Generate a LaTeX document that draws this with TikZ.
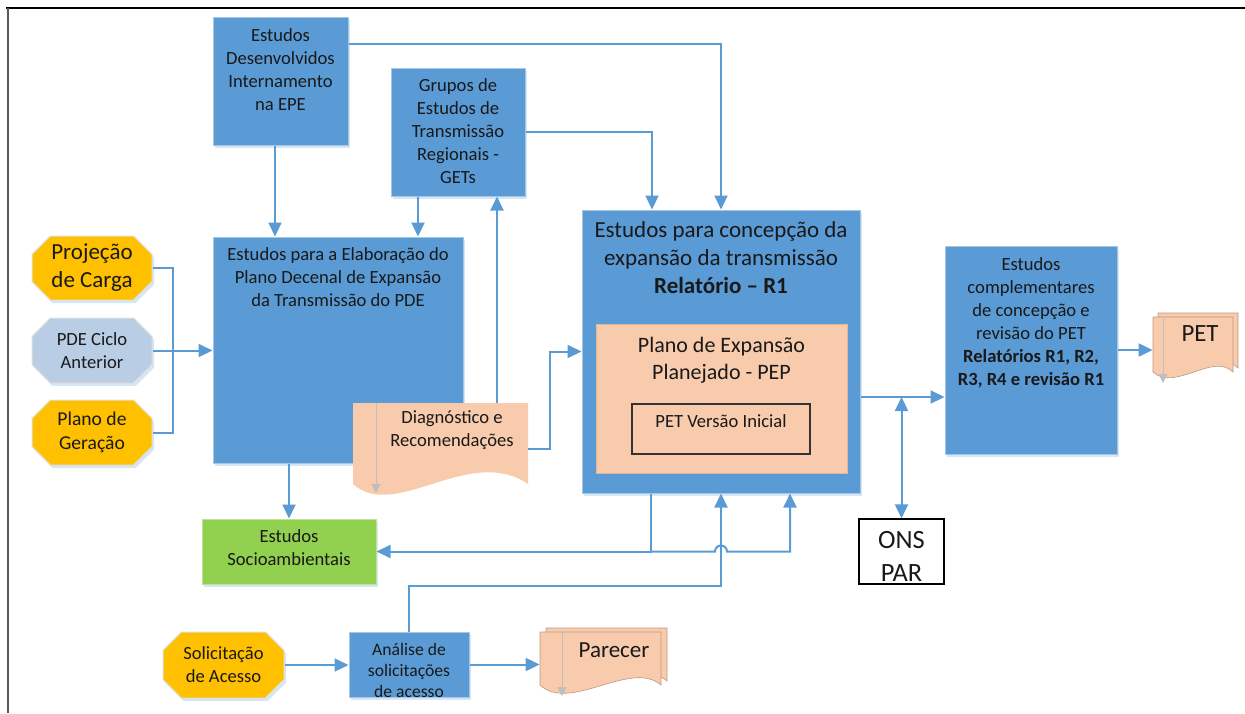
\documentclass[tikz,border=0pt]{standalone}
\usepackage{fontspec}
\setmainfont{Carlito}
\usepackage{xcolor}
\usepackage{tikz}
\usetikzlibrary{positioning,fit,shapes.misc,arrows.meta,shadows}

\definecolor{boxblue}{HTML}{5B9BD5}
\definecolor{lineblue}{HTML}{5B9BD5}
\definecolor{edgeblue}{HTML}{A6C6E6}
\definecolor{orangefill}{HTML}{FFC000}
\definecolor{lightfill}{HTML}{B9CDE5}
\definecolor{peach}{HTML}{F8CBAD}
\definecolor{greenfill}{HTML}{92D050}
\definecolor{docgrey}{HTML}{BFBFBF}
\newcommand{\fsz}[2]{\fontsize{#1}{#2}\selectfont}

\tikzset{
  shade box/.style={drop shadow={shadow xshift=1pt, shadow yshift=-1.5pt, fill=boxblue!25, opacity=1}},
  bluebox/.style={fill=boxblue, draw=edgeblue, line width=0.5pt, inner sep=0pt, shade box},
  peachbox/.style={fill=peach, draw=peach!90!black, line width=0.4pt, inner sep=0pt},
  octo/.style={chamfered rectangle, chamfered rectangle xsep=6pt, draw=black!12, line width=0.5pt,
    inner sep=0pt, align=center, text=black!90, shade box},
  txt/.style={align=center, inner sep=0pt, text=black!90},
}

\begin{document}
\begin{tikzpicture}[x=0.5pt, y=-0.5pt,
    conn/.style={draw=lineblue, line width=1pt},
    arr/.style={conn, -{Triangle[length=7pt,width=6.5pt]}},
    dblarr/.style={conn, {Triangle[length=7pt,width=6.5pt]}-{Triangle[length=7pt,width=6.5pt]}},
    docline/.style={docgrey, line width=0.5pt, -{Triangle[length=4.5pt,width=4.5pt]}}]
\useasboundingbox (0,0) rectangle (1245,713);
% frame
\draw[black, line width=1.2pt] (6,8) -- (1245,8);
\draw[black!65, line width=1.2pt] (8,8) -- (8,713);

% top boxes
\node[bluebox, fit={(213,17) (348,145)}] (epe) {};
\node[txt, font=\fsz{9.3}{11.5}, below=6pt of epe.north] (epetxt) {Estudos\\Desenvolvidos\\Internamento\\na EPE};
\node[bluebox, fit={(391,68) (525,196)}] (gets) {};
\node[txt, font=\fsz{9.3}{11.5}, below=5.5pt of gets.north] (getstxt) {Grupos de\\Estudos de\\Transmissão\\Regionais -\\GETs};

% inputs on the left
\node[octo, fill=orangefill, minimum width=60pt, minimum height=32pt, font=\fsz{11.5}{14}] (carga) at (92,268) {Projeção\\de Carga};
\node[octo, fill=lightfill, minimum width=60pt, minimum height=32.5pt, font=\fsz{9.3}{11.5}] (ciclo) at (92,350.5) {PDE Ciclo\\Anterior};
\node[octo, fill=orangefill, minimum width=60pt, minimum height=32.5pt, font=\fsz{9.8}{11.8}] (geracao) at (92,432.5) {Plano de\\Geração};

% PDE study
\node[bluebox, fit={(213,237) (463,463)}] (pde) {};
\node[txt, font=\fsz{9.3}{11.5}, below=5.5pt of pde.north] (pdetxt) {Estudos para a Elaboração do\\Plano Decenal de Expansão\\da Transmissão do PDE};

% document: diagnostico
\fill[peach] (353,403) -- (528,403) -- (528,484) .. controls (470,444) and (395,522) .. (353,484) -- cycle;
\draw[docline] (376,403) -- (376,493);
\node[fit={(353,403) (528,484)}, inner sep=0pt] (diag) {};
\node[txt, font=\fsz{9.3}{11.5}, anchor=north] (diagtxt) at (452,410) {Diagnóstico e\\Recomendações};

% main study
\node[bluebox, fit={(582,210) (860,493)}] (main) {};
\node[txt, font=\fsz{11.5}{14}, below=6pt of main.north] (maintxt) {Estudos para concepção da\\expansão da transmissão\\\textbf{Relatório -- R1}};
\node[peachbox, fit={(596,324) (847,473)}] (pep) {};
\node[txt, font=\fsz{11}{13.5}, below=6.75pt of pep.north] (peptxt) {Plano de Expansão\\Planejado - PEP};
\node[peachbox, draw=black!80, line width=0.6pt, fit={(632,404) (810,454)}] (petvi) {};
\node[txt, font=\fsz{9.3}{11.5}, below=5.5pt of petvi.north] (petvitxt) {PET Versão Inicial};

% complementary studies
\node[bluebox, fit={(945,246) (1117,454)}] (compl) {};
\node[txt, font=\fsz{9.3}{11.5}, below=6pt of compl.north] (compltxt) {Estudos\\complementares\\de concepção e\\revisão do PET\\\textbf{Relatórios R1, R2,}\\\textbf{R3, R4 e revisão R1}};

% document: PET
\filldraw[peach, draw=peach!75!black, line width=0.3pt] (1158,313) -- (1238,313) -- (1238,368) .. controls (1218,348) and (1180,388) .. (1158,368) -- cycle;
\filldraw[peach, draw=peach!75!black, line width=0.3pt] (1153,317) -- (1233,317) -- (1233,372) .. controls (1213,352) and (1175,392) .. (1153,372) -- cycle;
\draw[docline] (1163,317) -- (1163,383);
\node[fit={(1153,317) (1233,372)}, inner sep=0pt] (pet) {};
\node[txt, font=\fsz{12.4}{15}, anchor=north] (pettxt) at (1200,325) {PET};

% ONS
\node[fill=white, draw=black, line width=0.6pt, inner sep=0pt, fit={(859,519) (944,584)}] (ons) {};
\node[txt, font=\fsz{13.2}{16.5}, below=6.5pt of ons.north] (onstxt) {ONS\\PAR};

% socio
\node[fill=greenfill, draw=greenfill!60!white, line width=0.5pt, inner sep=0pt, shade box, fit={(202,519) (376,584)}] (socio) {};
\node[txt, font=\fsz{9.3}{11.5}, below=5.5pt of socio.north] (sociotxt) {Estudos\\Socioambientais};

% access requests
\node[octo, fill=orangefill, minimum width=60.5pt, minimum height=33pt, font=\fsz{9.3}{11.5}] (solic) at (223.5,665) {Solicitação\\de Acesso};
\node[bluebox, fit={(349,632) (469,697)}] (analise) {};
\node[txt, font=\fsz{8.8}{10.5}, below=5.75pt of analise.north] (analisetxt) {Análise de\\solicitações\\de acesso};

% document: parecer
\filldraw[peach, draw=peach!75!black, line width=0.3pt] (546,628) -- (667,628) -- (667,681) .. controls (637,655) and (576,709) .. (546,681) -- cycle;
\filldraw[peach, draw=peach!75!black, line width=0.3pt] (540,632) -- (661,632) -- (661,685) .. controls (631,659) and (570,713) .. (540,685) -- cycle;
\draw[docline] (562,632) -- (562,696);
\node[fit={(540,632) (661,685)}, inner sep=0pt] (parecer) {};
\node[txt, font=\fsz{11.5}{14}, anchor=north] (parecertxt) at (614,642) {Parecer};

% connectors
\draw[arr] ([xshift=-2.75pt]epe.south) -- ([xshift=-2.75pt]epe.south |- pde.north);
\draw[arr] ([yshift=18.5pt]epe.east) -| (main.north);
\draw[arr] ([xshift=-20pt]gets.south) -- ([xshift=-20pt]gets.south |- pde.north);
\draw[arr] (gets.east) -| ([xshift=-34.5pt]main.north);
\draw[arr] ([xshift=28.25pt]diag.north) -- ([xshift=28.25pt]diag.north |- gets.south);
\draw[arr] ([yshift=-2.75pt]diag.east) -- ++(22,0) |- (main.west);

\coordinate (bus) at (173,350);
\draw[conn] (carga.east) -| (bus) |- (geracao.east);
\draw[arr] (ciclo.east) -- (ciclo.east -| pde.west);

\draw[arr] (socio.north |- pde.south) -- (socio.north);
\draw[arr] ([xshift=-35pt]main.south) |- (socio.east);
\coordinate (jump) at (main.south |- socio.east);
\draw[arr] ([xshift=-35pt]main.south |- socio.east) -- ([xshift=-3pt]jump)
  arc[start angle=180, end angle=0, radius=3pt] -| ([xshift=34.5pt]main.south);
\draw[arr] (analise.north) -- ++(0,-46) -| (main.south);
\draw[arr] (solic.east) -- (solic.east -| analise.west);
\draw[arr] (analise.east) -- (analise.east -| parecer.west);

\draw[arr] ([yshift=-22.75pt]main.east) -- ([yshift=-22.75pt]main.east -| compl.west);
\draw[dblarr] (ons.north) -- ([yshift=-22.75pt]main.east -| ons.north);
\draw[arr] (compl.east) -- (compl.east -| pet.west);
\end{tikzpicture}
\end{document}
